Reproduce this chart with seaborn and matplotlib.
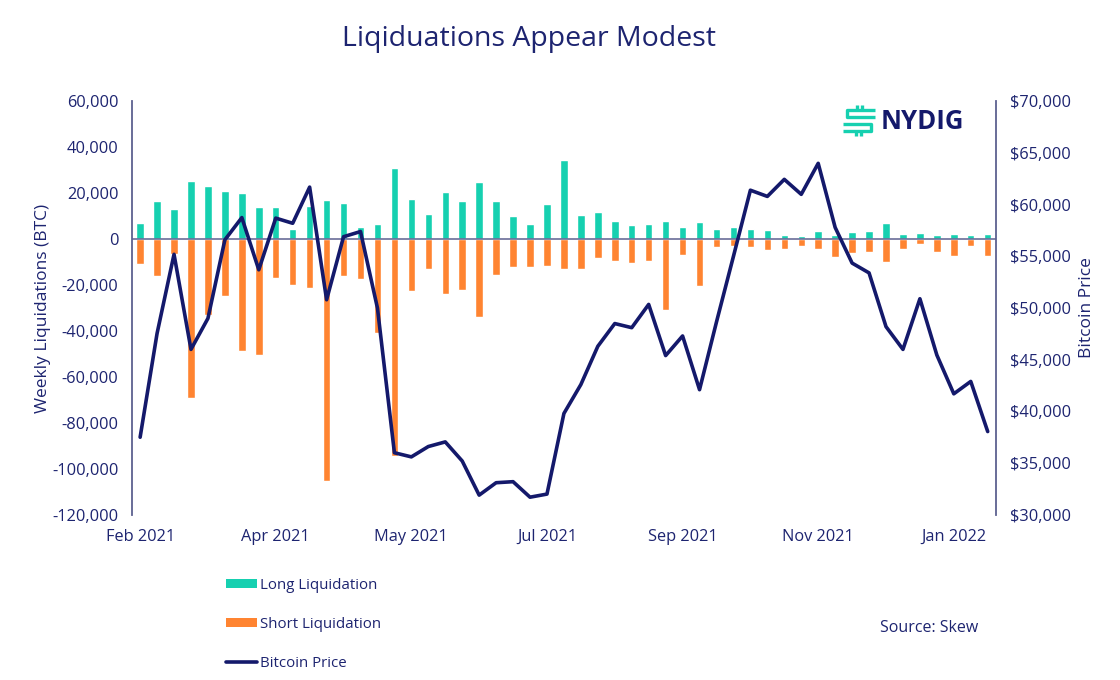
import numpy as np
import pandas as pd
import matplotlib
matplotlib.use('Agg')
import matplotlib.pyplot as plt
from matplotlib.patches import Patch
from matplotlib.lines import Line2D
from matplotlib.ticker import FuncFormatter
import seaborn as sns

# weekly data, Feb 2021 - Jan 2022 (51 weeks)
long_liq = [7000, 16800, 13300, 25500, 23300, 20900, 20300, 14100, 13800, 4600,
            14300, 17000, 15700, 5400, 6800, 30900, 17500, 11000, 20400, 16500,
            24900, 16400, 10000, 6400, 15100, 34600, 10700, 12000, 8000, 6100,
            6500, 8100, 5100, 7300, 4300, 5500, 4600, 3800, 2000, 1500,
            3500, 2000, 3000, 3500, 7000, 2300, 2600, 1900, 2200, 2000, 2200]
short_liq = [-11000, -16100, -6500, -69300, -33000, -24600, -48700, -50300, -16800, -20000,
             -21300, -105500, -16100, -17200, -41000, -94300, -22400, -12800, -24100, -22300,
             -33800, -15500, -12300, -12000, -11500, -12900, -12900, -8100, -9400, -10600,
             -9600, -30900, -6700, -20600, -3600, -2900, -3600, -4600, -4100, -3200,
             -4100, -7700, -6200, -5800, -9900, -4300, -2200, -5800, -7200, -3200, -7200]
btc_price = [37500, 47550, 55200, 46000, 49000, 56600, 58750, 53700, 58700, 58200,
             61700, 50800, 56900, 57400, 50000, 36000, 35600, 36600, 37050, 35200,
             31900, 33100, 33200, 31700, 32000, 39800, 42600, 46300, 48500, 48100,
             50350, 45400, 47300, 42100, 48650, 55000, 61400, 60800, 62450, 61000,
             64000, 57800, 54350, 53400, 48200, 46000, 50900, 45450, 41700, 42900, 38050]
week_labels = ['Feb 2021', 'Apr 2021', 'May 2021', 'Jul 2021', 'Sep 2021', 'Nov 2021', 'Jan 2022']

navy = '#14196b'
text_c = '#1d2470'
spine_c = '#5d6190'
teal = '#16d0b0'
orange = '#ff8431'

sns.set_theme(style="white")
plt.rcParams['font.family'] = ['Open Sans', 'DejaVu Sans']

weeks = pd.date_range('2021-02-07', periods=len(long_liq), freq='7D').strftime('%Y-%m-%d')
df = pd.DataFrame({'week': weeks, 'long': long_liq, 'short': short_liq, 'price': btc_price})

fig = plt.figure(figsize=(11.2, 6.8), dpi=100)
ax = fig.add_axes([0.118, 0.243, 0.771, 0.608])

sns.barplot(data=df, x='week', y='long', color=teal, width=0.44, saturation=1, ax=ax)
sns.barplot(data=df, x='week', y='short', color=orange, width=0.44, saturation=1, ax=ax)
ax.axhline(0, color=spine_c, lw=1.1, zorder=3)

ax.set_ylim(-120000, 60000)
ax.set_yticks(np.arange(-120000, 60001, 20000))
ax.yaxis.set_major_formatter(FuncFormatter(lambda v, p: '{:,.0f}'.format(v)))
ax.set_xticks(range(0, len(long_liq), 8))
ax.set_xticklabels(week_labels)
ax.set_xlim(-0.47, len(long_liq) - 0.53)
ax.set_xlabel('')
ax.set_ylabel('Weekly Liquidations (BTC)', color=text_c, fontsize=12.5, labelpad=1)

ax2 = ax.twinx()
sns.lineplot(x=np.arange(len(btc_price)), y=df['price'], color=navy, lw=2.6, ax=ax2)
ax2.set_ylim(30000, 70000)
ax2.set_yticks(np.arange(30000, 70001, 5000))
ax2.yaxis.set_major_formatter(FuncFormatter(lambda v, p: '${:,.0f}'.format(v)))
ax2.set_ylabel('Bitcoin Price', color=text_c, fontsize=12.5, labelpad=6)

for a in (ax, ax2):
    for s in ('top', 'bottom'):
        a.spines[s].set_visible(False)
    a.spines['left'].set_visible(a is ax)
    a.spines['right'].set_visible(a is ax2)
    a.spines['left'].set_color(spine_c)
    a.spines['right'].set_color(spine_c)
    a.spines['left'].set_linewidth(1.3)
    a.spines['right'].set_linewidth(1.3)
    a.tick_params(colors=text_c, labelsize=11.8, length=0, pad=10)
    a.grid(False)

fig.text(0.472, 0.942, 'Liqiduations Appear Modest', ha='center', va='center',
         fontsize=20.5, color=text_c)

# logo
fig.text(0.786, 0.822, 'NYDIG', ha='left', va='center', fontsize=18.5,
         fontweight='bold', color=navy)
W, H = 1120.0, 680.0
logo_px = [
    [(875, 110), (847, 110), (847, 117), (875, 117)],
    [(843, 124), (871, 124), (871, 131), (843, 131)],
    [(857, 105), (857, 110)],
    [(862, 105), (862, 110)],
    [(856, 131), (856, 136)],
    [(861, 131), (861, 136)],
]
for pts in logo_px:
    xs = [p[0] / W for p in pts]
    ys = [1 - p[1] / H for p in pts]
    fig.add_artist(Line2D(xs, ys, color=teal, lw=2.4, solid_joinstyle='round',
                          solid_capstyle='butt'))

handles = [Patch(facecolor=teal, edgecolor='none'),
           Patch(facecolor=orange, edgecolor='none'),
           Line2D([], [], color=navy, lw=2.6)]
fig.legend(handles, ['Long Liquidation', 'Short Liquidation', 'Bitcoin Price'],
           loc='upper left', bbox_to_anchor=(0.196, 0.159), frameon=False,
           fontsize=10.8, labelcolor=text_c, labelspacing=1.6,
           handlelength=2.1, handleheight=0.6, handletextpad=0.2, borderaxespad=0)

fig.text(0.786, 0.076, 'Source: Skew', ha='left', va='center', fontsize=11.5, color=text_c)

fig.savefig('out.png', dpi=100)
